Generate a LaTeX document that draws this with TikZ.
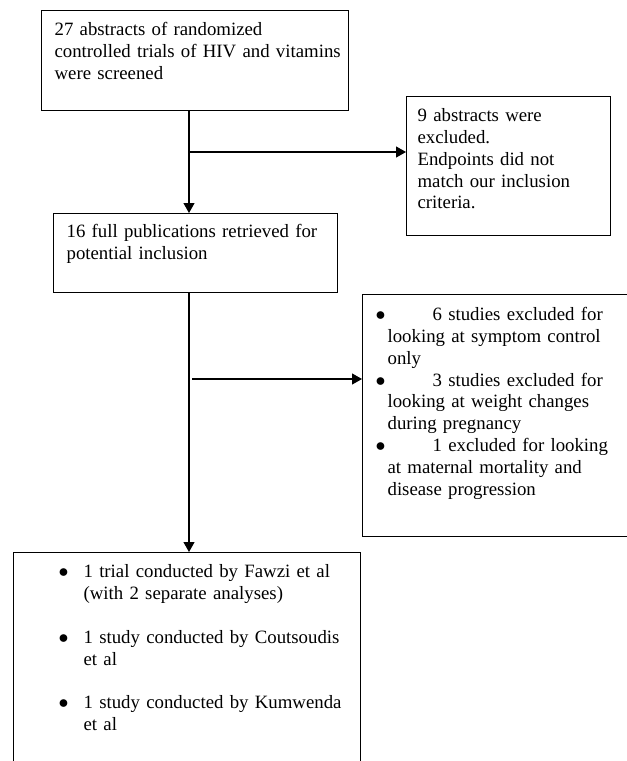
\documentclass[tikz,border=0pt]{standalone}
\usepackage{fontspec}
\setmainfont{Liberation Serif}
\usetikzlibrary{arrows.meta}
\newcommand{\listdot}{\scalebox{1.15}{$\bullet$}}

\begin{document}
\begin{tikzpicture}[x=1pt,y=-1pt,
  box/.style={draw, line width=1.2pt, anchor=north west, inner ysep=0pt, inner xsep=13pt,
    align=left, font=\fontsize{18.8}{21.8}\selectfont},
  flow/.style={line width=1.2pt, -{Triangle[length=10pt,width=11pt]}}]
\clip (0,0) rectangle (627,761);

% Abstracts screened
\node[box, text width=281pt, text height=25pt, text depth=75pt] (screened) at (41,10)
  {27 abstracts of randomized\\\mbox{controlled trials of HIV and vitamins}\\were screened};

% First exclusion
\node[box, inner xsep=11pt, text width=182pt, text height=25pt, text depth=114pt] (excluded) at (406,96)
  {9 abstracts were\\excluded.\\Endpoints did not\\match our inclusion\\criteria.};

% Full publications
\node[box, text width=258pt, text height=24pt, text depth=55pt] (retrieved) at (53,213)
  {16 full publications retrieved for\\potential inclusion};

% Second exclusion
\node[box, text width=264pt, text height=26pt, text depth=216pt] (dropped) at (362,294)
  {\makebox[57pt][l]{\listdot}6 studies excluded for\\
   \hspace*{12pt}looking at symptom control\\
   \hspace*{12pt}only\\
   \makebox[57pt][l]{\listdot}3 studies excluded for\\
   \hspace*{12pt}looking at weight changes\\
   \hspace*{12pt}during pregnancy\\
   \makebox[57pt][l]{\listdot}1 excluded for looking\\
   \hspace*{12pt}at maternal mortality and\\
   \hspace*{12pt}disease progression};

% Included studies
\node[box, text width=321.5pt, text height=25pt, text depth=275pt] (included) at (12.5,552)
  {\hspace*{32.5pt}\makebox[25pt][l]{\listdot}1 trial conducted by Fawzi et al\\
   \hspace*{57.5pt}(with 2 separate analyses)\\[22pt]
   \hspace*{32.5pt}\makebox[25pt][l]{\listdot}1 study conducted by Coutsoudis\\
   \hspace*{57.5pt}et al\\[22pt]
   \hspace*{32.5pt}\makebox[25pt][l]{\listdot}1 study conducted by Kumwenda\\
   \hspace*{57.5pt}et al};

% Arrows
\coordinate (col) at (189,0);
\coordinate (br1) at (189,152);
\coordinate (br2) at (192,379);
\draw[flow] (screened.south -| col) -- (retrieved.north -| col);
\draw[flow] (br1) -- (br1 -| excluded.west);
\draw[flow] (retrieved.south -| col) -- (included.north -| col);
\draw[flow] (br2) -- (br2 -| dropped.west);
\end{tikzpicture}
\end{document}
